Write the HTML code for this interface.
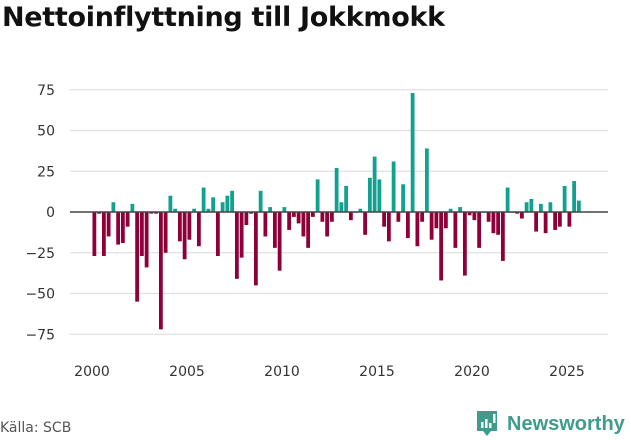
<!DOCTYPE html>
<html><head><meta charset="utf-8">
<style>
body{margin:0;width:631px;height:439px;background:#fff;font-family:"DejaVu Sans","Liberation Sans",sans-serif;overflow:hidden;position:relative}
h1{position:absolute;left:2px;top:2px;margin:0;font-size:27px;font-weight:bold;color:#111;letter-spacing:-0.3px}
.src{position:absolute;left:0;top:420px;font-size:14px;color:#555}
</style></head><body>
<h1>Nettoinflyttning till Jokkmokk</h1>
<svg id="chart" width="631" height="439" style="position:absolute;left:0;top:0"></svg>
<div class="src">Källa: SCB</div>
<svg style="position:absolute;left:474px;top:408px" width="155" height="32">
<path d="M3 3h20v20h-6l-4 5-4-5H3z" fill="#3f9c8c"/>
<rect x="7" y="14" width="2.5" height="6" fill="#fff"/><rect x="11" y="11" width="2.5" height="9" fill="#fff"/><rect x="15" y="15" width="2.5" height="5" fill="#fff"/><rect x="19" y="6" width="2.5" height="9" fill="#fff"/>
<text x="33" y="22" font-family="Liberation Sans, sans-serif" font-size="20" font-weight="bold" fill="#3f9c8c">Newsworthy</text>
</svg>
<script>
const values=[-27,-1,-27,-15,6,-20,-19,-9,5,-55,-27,-34,-1,-1,-72,-25,10,2,-18,-29,-17,2,-21,15,2,9,-27,6,10,13,-41,-28,-8,-1,-45,13,-15,3,-22,-36,3,-11,-3,-7,-15,-22,-3,20,-6,-15,-6,27,6,16,-5,0,2,-14,21,34,20,-9,-18,31,-6,17,-16,73,-21,-6,39,-17,-10,-42,-10,2,-22,3,-39,-2,-5,-22,0,-6,-13,-14,-30,15,0,-1,-4,6,8,-12,5,-13,6,-11,-9,16,-9,19,7];
const startYear=2000;
const yTicks=[75,50,25,0,-25,-50,-75];
const xTicks=[2000,2005,2010,2015,2020,2025];
const svg=document.getElementById('chart');
const NS='http://www.w3.org/2000/svg';
function x(t){return 92+(t-2000)*19;}
function y(v){return 212-v*1.63;}
function mk(tag,attrs){const e=document.createElementNS(NS,tag);for(const k in attrs)e.setAttribute(k,attrs[k]);svg.appendChild(e);return e;}
yTicks.forEach(v=>{
 if(v!==0){const g=mk('line',{x1:70,x2:608,y1:y(v),y2:y(v),stroke:'#e0e0e0','stroke-width':1.2});
 
 }
 const t=mk('text',{x:55,y:y(v)+5,'text-anchor':'end','font-size':14,fill:'#333','font-family':'DejaVu Sans, sans-serif'});
 t.textContent=v===0?'0':(v<0?'−'+(-v):v);
 
 
});
xTicks.forEach(v=>{
 const t=mk('text',{x:x(v),y:376,'text-anchor':'middle','font-size':14,fill:'#333','font-family':'DejaVu Sans, sans-serif'});
 t.textContent=v;
 
 
});
values.forEach((v,i)=>{
 const t=startYear+i/4+0.125;
 const y0=y(Math.max(v,0)),h=Math.abs(y(v)-y(0));
 const r=mk('rect',{x:x(t)-1.9,y:y0,width:3.8,height:Math.max(h,0.8),fill:v>=0?'#12a08f':'#8f0039'});
 
 
});
const z=mk('line',{x1:70,x2:608,y1:y(0),y2:y(0),stroke:'#444','stroke-width':1.5});


</script>
</body></html>
